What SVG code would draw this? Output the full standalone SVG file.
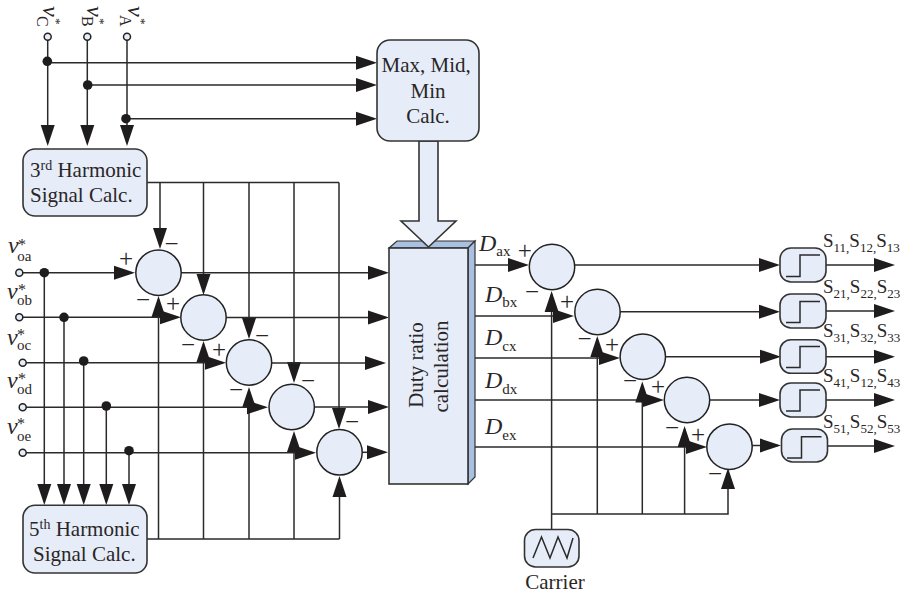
<svg xmlns="http://www.w3.org/2000/svg" width="903" height="595" viewBox="0 0 903 595">
<style>
text{font-family:"Liberation Serif","Times New Roman",serif;fill:#2a2627;font-size:21px}
.i{font-style:italic}
.sub{font-size:15px}
.star{font-size:16px}
.tv{font-size:24px;font-style:italic}
.ts{font-size:16px}
.tst{font-size:13px}
.lv{font-size:24px;font-style:italic}
.s{font-size:19px}
.ss{font-size:13px}
.sign{font-size:25px;text-anchor:middle}
.m{text-anchor:middle}
.box{fill:#e6edf8;stroke:#333;stroke-width:1.6}
.term{fill:#e6edf8;stroke:#222;stroke-width:1.5}
.sum{fill:#e6edf8;stroke:#222;stroke-width:1.5}
.dot{fill:#1f1c1d}
.side{fill:#a9c0e0;stroke:#333;stroke-width:1.2}
.wire{fill:none;stroke:#2a2a2a;stroke-width:1.5}
.a{fill:none;stroke:#2a2a2a;stroke-width:1.5;marker-end:url(#arr)}
</style>
<defs>
<marker id="arr" markerUnits="userSpaceOnUse" markerWidth="24" markerHeight="16" viewBox="0 -8 24 16" refX="18" refY="0" orient="auto">
<path d="M0,-7 L21,0 L0,7 Z" fill="#1f1c1d"/>
</marker>
</defs>
<g id="connectors">
<path class="a" d="M47.7,40V143"/>
<path class="a" d="M87.3,40V143"/>
<path class="a" d="M127,40V143"/>
<path class="a" d="M47.7,62.7H374"/>
<path class="a" d="M87.7,85H374"/>
<path class="a" d="M126,118.7H374"/>
<path class="wire" d="M147,182.5H339"/>
<path class="a" d="M160,182.5V246"/>
<path class="a" d="M203.5,182.5V292"/>
<path class="a" d="M249,182.5V336"/>
<path class="a" d="M294,182.5V380"/>
<path class="a" d="M339,182.5V426"/>
<path class="wire" d="M147,539H339.5"/>
<path class="a" d="M158.5,539V299"/>
<path class="a" d="M203.5,539V344"/>
<path class="a" d="M249,539V390"/>
<path class="a" d="M294,539V434"/>
<path class="a" d="M339.5,539V479"/>
<path class="a" d="M23,272.7H132"/>
<path class="a" d="M23,317.3H178"/>
<path class="a" d="M26,362.7H223"/>
<path class="a" d="M26,407.3H265"/>
<path class="a" d="M26,452.7H313"/>
<path class="a" d="M44.3,272.7V502"/>
<path class="a" d="M64,317.3V502"/>
<path class="a" d="M83.7,361V502"/>
<path class="a" d="M106.3,406V502"/>
<path class="a" d="M129,450.7V502"/>
<path class="a" d="M181,272.7H386"/>
<path class="a" d="M226,317.5H386"/>
<path class="a" d="M272,363H383"/>
<path class="a" d="M314,407H386"/>
<path class="a" d="M362,452.3H385"/>
<path class="a" d="M475,265H526"/>
<path class="a" d="M475,316H571"/>
<path class="a" d="M475,358H617"/>
<path class="a" d="M475,400H661"/>
<path class="a" d="M475,447H704"/>
<path class="a" d="M551.6,529V294"/>
<path class="a" d="M551.6,514H728V471"/>
<path class="a" d="M597.3,514V339"/>
<path class="a" d="M642.3,514V384.5"/>
<path class="a" d="M684.6,514V429"/>
<path class="a" d="M575,265H777"/>
<path class="a" d="M620,311.7H777"/>
<path class="a" d="M666,356.7H778"/>
<path class="a" d="M710,400H777"/>
<path class="a" d="M752,445.5H778"/>
<path class="a" d="M826,265H892"/>
<path class="a" d="M826,311H892"/>
<path class="a" d="M826,356.7H892"/>
<path class="a" d="M826,400H892"/>
<path class="a" d="M827,446H892"/>
<circle class="dot" cx="47.3" cy="61.3" r="4.8"/>
<circle class="dot" cx="87.7" cy="85" r="4.8"/>
<circle class="dot" cx="126" cy="118.7" r="4.8"/>
<circle class="dot" cx="44.3" cy="272.7" r="4.8"/>
<circle class="dot" cx="64" cy="317.3" r="4.8"/>
<circle class="dot" cx="83.7" cy="361" r="4.8"/>
<circle class="dot" cx="106.3" cy="406" r="4.8"/>
<circle class="dot" cx="129" cy="450.7" r="4.8"/>
</g>
<g id="input-vC"><circle class="term" cx="47.7" cy="36.7" r="3.5"/>
<g transform="translate(43,6) rotate(90)"><text class="tv">v</text><text class="ts" x="10" y="6">C</text><text class="tst" x="12" y="-9">*</text></g></g>
<g id="input-vB"><circle class="term" cx="87.3" cy="36.7" r="3.5"/>
<g transform="translate(87,6) rotate(90)"><text class="tv">v</text><text class="ts" x="10" y="5">B</text><text class="tst" x="12" y="-9">*</text></g></g>
<g id="input-vA"><circle class="term" cx="127" cy="36.7" r="3.5"/>
<g transform="translate(128,6) rotate(90)"><text class="tv">v</text><text class="ts" x="9" y="8">A</text><text class="tst" x="12" y="-9">*</text></g></g>
<g id="input-voa"><circle class="term" cx="19.3" cy="272.7" r="3.5"/><text class="lv" x="8" y="253">v</text><text class="star" x="18" y="250">*</text><text class="sub" x="17.3" y="261">oa</text></g>
<g id="input-vob"><circle class="term" cx="19.3" cy="317.3" r="3.5"/><text class="lv" x="7" y="299">v</text><text class="star" x="18" y="295">*</text><text class="sub" x="17" y="305">ob</text></g>
<g id="input-voc"><circle class="term" cx="22.7" cy="362.7" r="3.5"/><text class="lv" x="7" y="345">v</text><text class="star" x="17" y="340">*</text><text class="sub" x="17" y="350">oc</text></g>
<g id="input-vod"><circle class="term" cx="22.7" cy="407.3" r="3.5"/><text class="lv" x="7" y="388">v</text><text class="star" x="18" y="384">*</text><text class="sub" x="17" y="394">od</text></g>
<g id="input-voe"><circle class="term" cx="22.7" cy="452.7" r="3.5"/><text class="lv" x="7" y="434">v</text><text class="star" x="17" y="429">*</text><text class="sub" x="17" y="440.5">oe</text></g>
<g id="harmonic3"><rect class="box" x="23" y="149" width="124" height="67" rx="12"/>
<text x="30" y="177">3<tspan dy="-7" style="font-size:14px">rd</tspan><tspan dy="7"> Harmonic</tspan></text>
<text x="30" y="202">Signal Calc.</text></g>
<g id="harmonic5"><rect class="box" x="23" y="505.3" width="124" height="67.7" rx="12"/>
<text x="29" y="535.5">5<tspan dy="-7" style="font-size:14px">th</tspan><tspan dy="7"> Harmonic</tspan></text>
<text x="33" y="560.5">Signal Calc.</text></g>
<g id="duty">
<path class="side" d="M389,248L397,241H475L468,248Z"/>
<path class="side" d="M468,248L475,241V477L468,484Z"/>
<rect class="box" x="389" y="248" width="79" height="236"/>
<text class="m" transform="translate(423,365) rotate(-90)">Duty ratio</text>
<text class="m" transform="translate(447.5,366.5) rotate(-90)">calculation</text></g>
<g id="maxmidmin">
<path class="box" d="M419,141V221H401L428.5,247L456,221H438V141Z"/>
<rect class="box" x="377" y="40" width="102" height="101" rx="13"/>
<text x="381.5" y="71.5">Max, Mid,</text>
<text class="m" x="428" y="98">Min</text>
<text class="m" x="428" y="122.5">Calc.</text></g>
<g id="sum1"><circle class="sum" cx="158.5" cy="272.7" r="22.7"/></g>
<g id="sum2"><circle class="sum" cx="203.5" cy="317.5" r="22.7"/></g>
<g id="sum3"><circle class="sum" cx="249" cy="362.5" r="22.7"/></g>
<g id="sum4"><circle class="sum" cx="291.7" cy="407" r="22.7"/></g>
<g id="sum5"><circle class="sum" cx="339.5" cy="452.3" r="22.7"/></g>
<g id="sum6"><circle class="sum" cx="552" cy="267" r="22.7"/></g>
<g id="sum7"><circle class="sum" cx="597.5" cy="312" r="22.7"/></g>
<g id="sum8"><circle class="sum" cx="642.8" cy="356.7" r="22.7"/></g>
<g id="sum9"><circle class="sum" cx="687" cy="400" r="22.7"/></g>
<g id="sum10"><circle class="sum" cx="729.5" cy="446.7" r="22.7"/></g>
<g id="signs">
<text class="sign" x="126" y="267">+</text><text class="sign" x="171.5" y="252">−</text><text class="sign" x="143" y="308">−</text>
<text class="sign" x="173" y="312">+</text><text class="sign" x="188" y="353">−</text>
<text class="sign" x="219" y="358">+</text><text class="sign" x="262" y="344">−</text><text class="sign" x="236" y="398">−</text>
<text class="sign" x="308" y="389">−</text><text class="sign" x="352" y="430">−</text>
<text class="sign" x="524.7" y="259">+</text><text class="sign" x="532" y="300">−</text>
<text class="sign" x="567" y="310">+</text><text class="sign" x="584.5" y="347">−</text>
<text class="sign" x="612" y="353">+</text><text class="sign" x="630" y="389">−</text>
<text class="sign" x="658" y="395">+</text><text class="sign" x="672" y="436">−</text>
<text class="sign" x="698" y="443">+</text><text class="sign" x="715" y="482">−</text>
</g>
<g id="duty-labels">
<text x="479" y="250.7" style="font-size:24px"><tspan class="i">D</tspan><tspan class="sub" dy="5.5">ax</tspan></text>
<text x="485" y="301.7" style="font-size:24px"><tspan class="i">D</tspan><tspan class="sub" dy="5.5">bx</tspan></text>
<text x="485" y="345" style="font-size:24px"><tspan class="i">D</tspan><tspan class="sub" dy="5.5">cx</tspan></text>
<text x="485" y="388" style="font-size:24px"><tspan class="i">D</tspan><tspan class="sub" dy="5.5">dx</tspan></text>
<text x="485" y="434" style="font-size:24px"><tspan class="i">D</tspan><tspan class="sub" dy="5.5">ex</tspan></text>
</g>
<g id="cmp1"><rect class="box" x="780" y="248" width="46" height="34" rx="11"/><path class="wire" d="M786,276.5H800V255H820"/>
<text class="s" x="823" y="247">S<tspan class="ss" dy="5">11,</tspan><tspan dy="-5">S</tspan><tspan class="ss" dy="5">12,</tspan><tspan dy="-5">S</tspan><tspan class="ss" dy="5">13</tspan></text></g>
<g id="cmp2"><rect class="box" x="780" y="294" width="46" height="34" rx="11"/><path class="wire" d="M786,322.5H800V301.5H820"/>
<text class="s" x="823" y="293">S<tspan class="ss" dy="5">21,</tspan><tspan dy="-5">S</tspan><tspan class="ss" dy="5">22,</tspan><tspan dy="-5">S</tspan><tspan class="ss" dy="5">23</tspan></text></g>
<g id="cmp3"><rect class="box" x="780" y="339.7" width="46" height="33.6" rx="11"/><path class="wire" d="M786,367.5H800V346.5H820"/>
<text class="s" x="823" y="337">S<tspan class="ss" dy="5">31,</tspan><tspan dy="-5">S</tspan><tspan class="ss" dy="5">32,</tspan><tspan dy="-5">S</tspan><tspan class="ss" dy="5">33</tspan></text></g>
<g id="cmp4"><rect class="box" x="780" y="383" width="46" height="34" rx="11"/><path class="wire" d="M786,411H800V390H820"/>
<text class="s" x="823" y="382">S<tspan class="ss" dy="5">41,</tspan><tspan dy="-5">S</tspan><tspan class="ss" dy="5">12,</tspan><tspan dy="-5">S</tspan><tspan class="ss" dy="5">43</tspan></text></g>
<g id="cmp5"><rect class="box" x="781.5" y="429" width="46" height="33" rx="11"/><path class="wire" d="M787,458H801.5V436.7H821.5"/>
<text class="s" x="823" y="428">S<tspan class="ss" dy="5">51,</tspan><tspan dy="-5">S</tspan><tspan class="ss" dy="5">52,</tspan><tspan dy="-5">S</tspan><tspan class="ss" dy="5">53</tspan></text></g>
<g id="carrier"><rect class="box" x="524.5" y="529.5" width="54.5" height="37.5" rx="11"/>
<path class="wire" d="M533,558L541.5,537L550,558L558,537L567,558L573,538"/>
<text class="m" x="555" y="589">Carrier</text></g>
</svg>
